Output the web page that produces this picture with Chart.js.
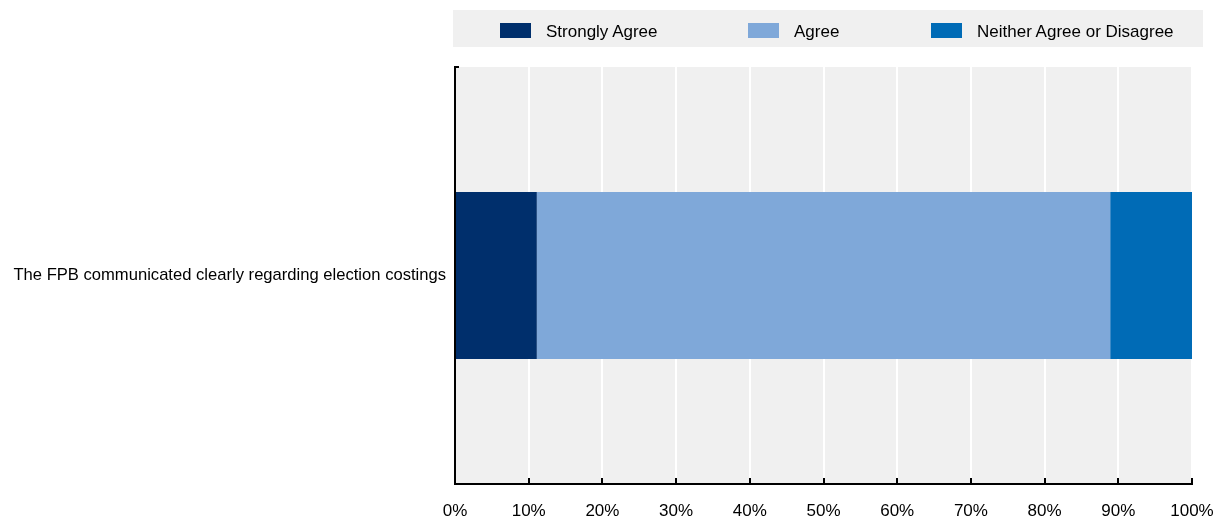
<!DOCTYPE html>
<html>
<head>
<meta charset="utf-8">
<script src="https://cdn.jsdelivr.net/npm/chart.js@4.4.1/dist/chart.umd.min.js"></script>
<style>
  html, body { margin: 0; padding: 0; background: #fff; }
  #wrap { position: relative; width: 1220px; height: 520px; }
  #legend {
    position: absolute; left: 453px; top: 10px; width: 750px; height: 37px;
    background: #f0f0f0;
    font-family: 'Liberation Sans', Arial, sans-serif;
    font-size: 17px; color: #000;
  }
  .item { position: absolute; top: 0; height: 37px; }
  .swatch { position: absolute; top: 13px; width: 31px; height: 15px; }
  .label { position: absolute; left: 46px; top: 3px; line-height: 37px; white-space: nowrap; }
</style>
</head>
<body>
<div id="wrap">
  <canvas id="c" width="1220" height="520"></canvas>
  <div id="legend"></div>
</div>
<script>
// Survey statement and response shares (percent of respondents)
const categories = ['The FPB communicated clearly regarding election costings'];
const seriesNames = ['Strongly Agree', 'Agree', 'Neither Agree or Disagree'];
const stronglyAgree = [11.1];
const agree = [77.8];
const neither = [11.1];
const tickLabels = ['0%', '10%', '20%', '30%', '40%', '50%', '60%', '70%', '80%', '90%', '100%'];

const colors = ['#002F6C', '#7FA8D9', '#006BB6'];
const FONT = "'Liberation Sans', Arial, sans-serif";

// Legend strip above the plot
const legendOffsets = [47, 295, 478];
const legendEl = document.getElementById('legend');
seriesNames.forEach((name, i) => {
  const it = document.createElement('div');
  it.className = 'item';
  it.style.left = legendOffsets[i] + 'px';
  const sw = document.createElement('div');
  sw.className = 'swatch';
  sw.style.background = colors[i];
  const lb = document.createElement('div');
  lb.className = 'label';
  lb.textContent = name;
  it.appendChild(sw);
  it.appendChild(lb);
  legendEl.appendChild(it);
});

// Grey plot background, inner tick marks and axis corner
const plotDecor = {
  id: 'plotDecor',
  beforeDraw(chart) {
    const { ctx, chartArea: a } = chart;
    ctx.save();
    ctx.fillStyle = '#f0f0f0';
    ctx.fillRect(a.left, a.top, a.right - a.left, a.bottom - a.top);
    ctx.restore();
  },
  afterDraw(chart) {
    const { ctx, chartArea: a } = chart;
    const xs = chart.scales.x;
    ctx.save();
    ctx.strokeStyle = '#000';
    ctx.lineWidth = 2;
    ctx.beginPath();
    xs.ticks.forEach(t => {
      const px = Math.round(xs.getPixelForValue(t.value));
      if (px <= a.left + 1) return;
      ctx.moveTo(px, a.bottom);
      ctx.lineTo(px, a.bottom - 6);
    });
    ctx.moveTo(a.left - 1, a.top);
    ctx.lineTo(a.left + 4, a.top);
    ctx.stroke();
    ctx.restore();
  }
};

new Chart(document.getElementById('c'), {
  type: 'bar',
  data: {
    labels: categories,
    datasets: [
      { label: seriesNames[0], data: stronglyAgree, backgroundColor: colors[0] },
      { label: seriesNames[1], data: agree, backgroundColor: colors[1] },
      { label: seriesNames[2], data: neither, backgroundColor: colors[2] }
    ]
  },
  options: {
    indexAxis: 'y',
    responsive: false,
    animation: false,
    devicePixelRatio: 1,
    layout: { padding: { top: 67, right: 28, bottom: 0, left: 10 } },
    datasets: { bar: { barPercentage: 0.4, categoryPercentage: 1, borderWidth: 0 } },
    plugins: { legend: { display: false }, tooltip: { enabled: false } },
    scales: {
      x: {
        stacked: true,
        min: 0, max: 100,
        grid: { color: '#ffffff', lineWidth: 2, drawTicks: false, tickLength: 0 },
        border: { display: true, color: '#000', width: 2 },
        ticks: {
          stepSize: 10,
          padding: 17,
          color: '#000',
          font: { family: FONT, size: 17 },
          maxRotation: 0,
          callback: (v) => tickLabels[Math.round(v / 10)]
        },
        afterFit: (s) => { s.height = 36; s.paddingLeft = 0; s.paddingRight = 0; }
      },
      y: {
        stacked: true,
        grid: { display: false, tickLength: 0 },
        border: { display: true, color: '#000', width: 2 },
        ticks: {
          padding: 9,
          color: '#000',
          font: { family: FONT, size: 16.6 }
        },
        afterFit: (s) => { s.width = 445; }
      }
    }
  },
  plugins: [plotDecor]
});
</script>
</body>
</html>
